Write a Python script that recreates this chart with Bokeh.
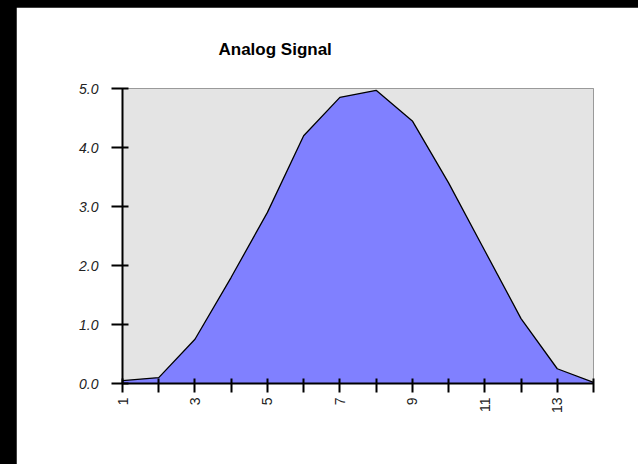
from bokeh.plotting import figure
from bokeh.models import FixedTicker, Range1d, Spacer, GlobalInlineStyleSheet, Title
from bokeh.layouts import row, column
from bokeh.embed import file_html
from bokeh.resources import INLINE

x_vals = [1, 2, 3, 4, 5, 6, 7, 8, 9, 10, 11, 12, 13, 14]
signal = [0.05, 0.1, 0.75, 1.8, 2.9, 4.2, 4.85, 4.97, 4.45, 3.4, 2.25, 1.1, 0.25, 0.02]
x_ticks = [1, 2, 3, 4, 5, 6, 7, 8, 9, 10, 11, 12, 13, 14]
x_tick_labels = ["1", "", "3", "", "5", "", "7", "", "9", "", "11", "", "13", ""]
y_ticks = [0, 1, 2, 3, 4, 5]
y_tick_labels = ["0.0", "1.0", "2.0", "3.0", "4.0", "5.0"]
title_text = "Analog Signal"

p = figure(width=622, height=457, output_backend="svg", toolbar_location=None,
           x_range=Range1d(1, 14), y_range=Range1d(0, 5),
           min_border_left=106, min_border_right=45, min_border_top=81, min_border_bottom=81)
p.title = Title(text=title_text, align="left", offset=96, standoff=60,
                text_font="Liberation Sans", text_font_size="17px", text_font_style="bold",
                text_color="black")
p.background_fill_color = "#E4E4E4"
p.border_fill_color = "white"
p.outline_line_color = "#9A9A9A"
p.outline_line_width = 1
p.grid.visible = False

p.varea(x=x_vals, y1=0, y2=signal, fill_color="#8080FF")
p.line(x=x_vals, y=signal, line_color="black", line_width=1.3)

xa = p.xaxis[0]
xa.ticker = FixedTicker(ticks=x_ticks)
xa.major_label_overrides = {t: l for t, l in zip(x_ticks, x_tick_labels)}
xa.major_label_orientation = 1.5708
xa.minor_tick_line_color = None
xa.major_tick_out = 9
xa.major_tick_in = 5
xa.major_label_standoff = 5

ya = p.yaxis[0]
ya.ticker = FixedTicker(ticks=y_ticks)
ya.major_label_overrides = {t: l for t, l in zip(y_ticks, y_tick_labels)}
ya.minor_tick_line_color = None
ya.major_tick_out = 11
ya.major_tick_in = 6
ya.major_label_standoff = 13
ya.major_label_text_font_style = "italic"

for ax in (xa, ya):
    ax.axis_line_color = "black"
    ax.axis_line_width = 2
    ax.major_tick_line_color = "black"
    ax.major_tick_line_width = 2
    ax.major_label_text_font = "Liberation Sans"
    ax.major_label_text_font_size = "14px"
    ax.major_label_text_color = "#222222"

p.stylesheets = [GlobalInlineStyleSheet(css="body { background-color: #000000; }")]

layout = column(Spacer(width=638, height=7), row(Spacer(width=16, height=457), p))

open("out.html", "w").write(file_html(layout, INLINE))
